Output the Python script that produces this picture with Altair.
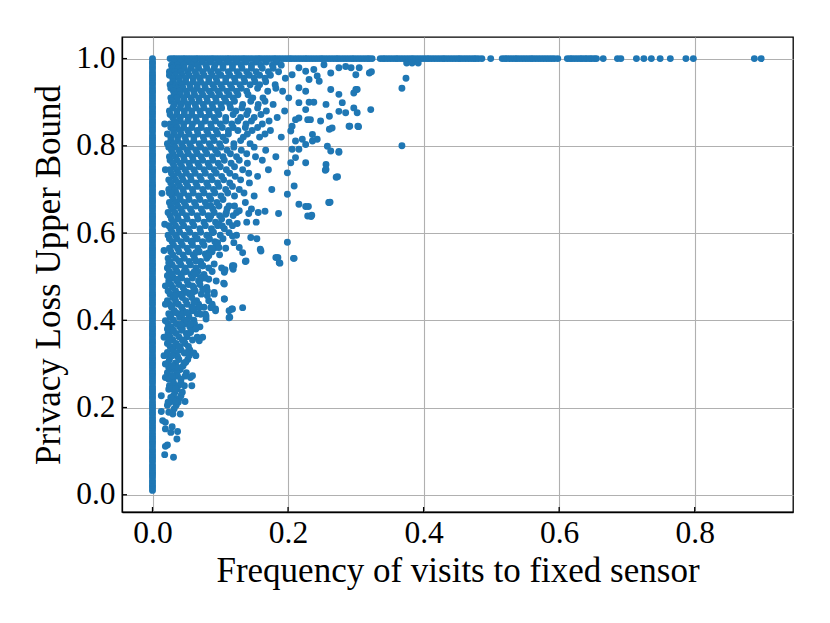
import altair as alt
import pandas as pd

# ---- axis ticks ----
x_ticks = [0.0, 0.2, 0.4, 0.6, 0.8]
y_ticks = [0.0, 0.2, 0.4, 0.6, 0.8, 1.0]

# ---- users that never visit the fixed sensor (x = 0) ----
col_y = [0.010, 0.016, 0.021, 0.027, 0.033, 0.040, 0.046, 0.051, 0.057, 0.063, 0.069, 0.076,
         0.082, 0.087, 0.093, 0.099, 0.105, 0.112, 0.118, 0.123, 0.129, 0.135, 0.141, 0.148,
         0.154, 0.160, 0.166, 0.171, 0.177, 0.184, 0.190, 0.196, 0.202, 0.207, 0.213, 0.220,
         0.226, 0.232, 0.238, 0.243, 0.249, 0.256, 0.262, 0.268, 0.274, 0.279, 0.285, 0.292,
         0.298, 0.304, 0.310, 0.315, 0.321, 0.328, 0.334, 0.340, 0.346, 0.351, 0.357, 0.364,
         0.370, 0.376, 0.382, 0.387, 0.393, 0.400, 0.406, 0.412, 0.418, 0.423, 0.429, 0.436,
         0.442, 0.448, 0.454, 0.459, 0.465, 0.472, 0.478, 0.484, 0.490, 0.495, 0.501, 0.508,
         0.514, 0.520, 0.526, 0.531, 0.537, 0.544, 0.550, 0.556, 0.562, 0.567, 0.573, 0.580,
         0.586, 0.592, 0.598, 0.603, 0.609, 0.616, 0.622, 0.628, 0.634, 0.639, 0.645, 0.652,
         0.658, 0.664, 0.670, 0.675, 0.681, 0.688, 0.694, 0.700, 0.706, 0.711, 0.717, 0.724,
         0.730, 0.736, 0.742, 0.747, 0.753, 0.760, 0.766, 0.772, 0.778, 0.783, 0.789, 0.796,
         0.802, 0.808, 0.814, 0.819, 0.825, 0.832, 0.838, 0.844, 0.850, 0.855, 0.861, 0.868,
         0.874, 0.880, 0.886, 0.891, 0.897, 0.904, 0.910, 0.916, 0.922, 0.927, 0.933, 0.940,
         0.946, 0.952, 0.958, 0.963, 0.969, 0.976, 0.982, 0.988, 0.993, 1.000]

# ---- users whose bound saturates at 1.0 ----
top_x = [0.026, 0.030, 0.033, 0.037, 0.041, 0.045, 0.048, 0.052, 0.056, 0.060, 0.064, 0.067,
         0.071, 0.075, 0.079, 0.083, 0.087, 0.090, 0.094, 0.098, 0.102, 0.106, 0.110, 0.113,
         0.117, 0.121, 0.125, 0.129, 0.133, 0.136, 0.140, 0.144, 0.148, 0.152, 0.156, 0.159,
         0.163, 0.167, 0.171, 0.175, 0.179, 0.182, 0.186, 0.190, 0.194, 0.198, 0.202, 0.205,
         0.209, 0.213, 0.217, 0.221, 0.225, 0.228, 0.232, 0.236, 0.240, 0.244, 0.248, 0.251,
         0.255, 0.259, 0.263, 0.267, 0.271, 0.274, 0.278, 0.282, 0.286, 0.290, 0.294, 0.297,
         0.301, 0.305, 0.309, 0.313, 0.317, 0.320, 0.324, 0.336, 0.340, 0.343, 0.347, 0.351,
         0.355, 0.359, 0.362, 0.366, 0.370, 0.374, 0.378, 0.382, 0.385, 0.389, 0.393, 0.397,
         0.401, 0.405, 0.408, 0.412, 0.416, 0.420, 0.424, 0.428, 0.431, 0.435, 0.439, 0.443,
         0.447, 0.451, 0.454, 0.458, 0.462, 0.466, 0.470, 0.474, 0.477, 0.481, 0.486, 0.499,
         0.516, 0.520, 0.523, 0.527, 0.531, 0.535, 0.538, 0.542, 0.546, 0.550, 0.554, 0.558,
         0.561, 0.565, 0.569, 0.573, 0.577, 0.581, 0.585, 0.589, 0.593, 0.598, 0.612, 0.616,
         0.619, 0.623, 0.627, 0.631, 0.634, 0.638, 0.641, 0.645, 0.648, 0.652, 0.655, 0.665,
         0.686, 0.691, 0.714, 0.725, 0.736, 0.749, 0.764, 0.787, 0.798, 0.888, 0.898]

# ---- dense cloud, read row by row (y, list of x) ----
cloud_upper = [
    (0.992, [0.032, 0.041, 0.052, 0.062, 0.073, 0.085, 0.098, 0.111, 0.124, 0.138, 0.153, 0.168, 0.183]),
    (0.985, [0.028, 0.037, 0.046, 0.058, 0.067, 0.079, 0.092, 0.104, 0.118, 0.131, 0.146, 0.160, 0.177, 0.190]),
    (0.978, [0.029, 0.038, 0.047, 0.057, 0.068, 0.080, 0.091, 0.104, 0.118, 0.132, 0.146, 0.162, 0.178]),
    (0.970, [0.025, 0.033, 0.042, 0.052, 0.063, 0.074, 0.086, 0.097, 0.112, 0.125, 0.139, 0.153, 0.171, 0.186]),
    (0.962, [0.025, 0.034, 0.044, 0.054, 0.065, 0.076, 0.088, 0.101, 0.114, 0.128, 0.143, 0.158, 0.174]),
    (0.955, [0.030, 0.039, 0.049, 0.060, 0.070, 0.083, 0.094, 0.108, 0.121, 0.135, 0.150, 0.166, 0.196]),
    (0.947, [0.030, 0.040, 0.049, 0.060, 0.071, 0.083, 0.095, 0.108, 0.122, 0.136, 0.151, 0.167]),
    (0.940, [0.026, 0.035, 0.044, 0.055, 0.066, 0.077, 0.089, 0.101, 0.115, 0.129, 0.144, 0.158, 0.181]),
    (0.932, [0.027, 0.036, 0.045, 0.056, 0.066, 0.078, 0.091, 0.103, 0.117, 0.131, 0.155, 0.182]),
    (0.925, [0.031, 0.040, 0.050, 0.061, 0.072, 0.084, 0.097, 0.110, 0.124, 0.139, 0.170, 0.192]),
    (0.917, [0.032, 0.041, 0.051, 0.062, 0.074, 0.087, 0.099, 0.113, 0.126, 0.141]),
    (0.910, [0.027, 0.036, 0.046, 0.057, 0.068, 0.080, 0.093, 0.106, 0.119, 0.148, 0.163]),
    (0.902, [0.028, 0.037, 0.047, 0.058, 0.069, 0.081, 0.094, 0.108, 0.121, 0.145, 0.166]),
    (0.895, [0.032, 0.042, 0.052, 0.063, 0.075, 0.088, 0.101, 0.114, 0.133, 0.156, 0.178]),
    (0.887, [0.030, 0.041, 0.052, 0.064, 0.076, 0.089, 0.102, 0.115, 0.132, 0.155]),
    (0.880, [0.025, 0.036, 0.047, 0.058, 0.070, 0.083, 0.096, 0.123, 0.141, 0.168, 0.195]),
    (0.872, [0.026, 0.036, 0.047, 0.058, 0.071, 0.084, 0.098, 0.119, 0.139, 0.160]),
    (0.865, [0.030, 0.041, 0.053, 0.064, 0.078, 0.091, 0.108, 0.130, 0.150, 0.184]),
    (0.857, [0.032, 0.041, 0.052, 0.065, 0.078, 0.093, 0.108, 0.126, 0.146, 0.172]),
    (0.850, [0.026, 0.035, 0.046, 0.059, 0.072, 0.086, 0.100, 0.117, 0.138, 0.162]),
    (0.842, [0.027, 0.036, 0.046, 0.058, 0.072, 0.087, 0.103, 0.119, 0.137, 0.155]),
    (0.835, [0.031, 0.041, 0.052, 0.066, 0.080, 0.094, 0.112, 0.126, 0.147, 0.174]),
    (0.827, [0.022, 0.032, 0.042, 0.054, 0.067, 0.082, 0.096, 0.112, 0.140, 0.166]),
    (0.820, [0.027, 0.037, 0.048, 0.061, 0.075, 0.089, 0.104, 0.134, 0.158, 0.190]),
    (0.812, [0.027, 0.037, 0.049, 0.061, 0.076, 0.091, 0.108, 0.130]),
    (0.805, [0.022, 0.032, 0.043, 0.055, 0.069, 0.084, 0.099, 0.120, 0.144]),
    (0.797, [0.024, 0.033, 0.045, 0.057, 0.071, 0.086, 0.101, 0.120, 0.150]),
    (0.790, [0.028, 0.039, 0.051, 0.064, 0.078, 0.093, 0.110, 0.131, 0.167]),
    (0.782, [0.030, 0.041, 0.053, 0.066, 0.080, 0.096, 0.115, 0.139]),
    (0.775, [0.025, 0.034, 0.046, 0.059, 0.072, 0.088, 0.104, 0.124, 0.152, 0.182]),
    (0.767, [0.026, 0.036, 0.047, 0.060, 0.074, 0.089, 0.106, 0.128, 0.162]),
    (0.760, [0.030, 0.041, 0.054, 0.067, 0.082, 0.097, 0.116, 0.140]),
    (0.752, [0.032, 0.043, 0.055, 0.069, 0.084, 0.100, 0.121]),
    (0.745, [0.026, 0.036, 0.048, 0.061, 0.076, 0.091, 0.109, 0.133, 0.171]),
    (0.737, [0.028, 0.038, 0.050, 0.063, 0.078, 0.094, 0.114, 0.142]),
    (0.730, [0.031, 0.043, 0.056, 0.070, 0.086, 0.102, 0.122, 0.155]),
    (0.722, [0.024, 0.034, 0.045, 0.057, 0.072, 0.088, 0.105, 0.130]),
    (0.715, [0.027, 0.038, 0.050, 0.064, 0.080, 0.096, 0.114, 0.143]),
    (0.707, [0.030, 0.040, 0.052, 0.066, 0.082, 0.098, 0.118]),
    (0.700, [0.024, 0.033, 0.045, 0.059, 0.074, 0.090, 0.108, 0.128, 0.176]),
]
cloud_lower = [
    (0.692, [0.025, 0.035, 0.046, 0.060, 0.076, 0.092, 0.111, 0.135]),
    (0.685, [0.029, 0.040, 0.053, 0.068, 0.084, 0.101, 0.121, 0.150]),
    (0.677, [0.031, 0.041, 0.054, 0.070, 0.086, 0.104]),
    (0.670, [0.025, 0.035, 0.047, 0.062, 0.078, 0.095, 0.137]),
    (0.662, [0.027, 0.037, 0.049, 0.064, 0.080, 0.098, 0.121]),
    (0.655, [0.030, 0.042, 0.056, 0.072, 0.089, 0.110, 0.146]),
    (0.647, [0.023, 0.033, 0.044, 0.058, 0.074, 0.091, 0.109]),
    (0.640, [0.026, 0.037, 0.050, 0.066, 0.082, 0.099, 0.119]),
    (0.632, [0.028, 0.038, 0.051, 0.067, 0.084, 0.102]),
    (0.625, [0.031, 0.044, 0.059, 0.076, 0.093, 0.113, 0.139]),
    (0.617, [0.024, 0.034, 0.046, 0.061, 0.078, 0.096, 0.118]),
    (0.610, [0.027, 0.039, 0.053, 0.070, 0.087, 0.106]),
    (0.602, [0.029, 0.040, 0.055, 0.071, 0.090]),
    (0.595, [0.023, 0.034, 0.047, 0.063, 0.080, 0.100, 0.124]),
    (0.587, [0.025, 0.036, 0.050, 0.066, 0.084, 0.104]),
    (0.580, [0.029, 0.042, 0.057, 0.074, 0.092]),
    (0.572, [0.031, 0.044, 0.059, 0.076, 0.095]),
    (0.565, [0.025, 0.037, 0.051, 0.067, 0.086, 0.108]),
    (0.557, [0.027, 0.039, 0.053, 0.069, 0.088]),
    (0.550, [0.030, 0.045, 0.060, 0.079, 0.099]),
    (0.542, [0.023, 0.034, 0.047, 0.062, 0.080]),
    (0.535, [0.026, 0.040, 0.054, 0.071]),
    (0.527, [0.029, 0.042, 0.056, 0.072]),
    (0.520, [0.022, 0.034, 0.048, 0.064, 0.083, 0.102]),
    (0.512, [0.025, 0.036, 0.050, 0.067, 0.088]),
    (0.505, [0.028, 0.042, 0.057, 0.076]),
    (0.497, [0.031, 0.043, 0.059, 0.078]),
    (0.490, [0.024, 0.036, 0.051, 0.068, 0.094]),
    (0.482, [0.027, 0.039, 0.053, 0.070]),
    (0.475, [0.030, 0.045, 0.061, 0.080]),
    (0.467, [0.023, 0.034, 0.047, 0.063, 0.081]),
    (0.460, [0.026, 0.040, 0.055, 0.072]),
    (0.452, [0.030, 0.044, 0.058]),
    (0.445, [0.022, 0.034, 0.049, 0.065, 0.083]),
    (0.437, [0.025, 0.038, 0.051, 0.068]),
    (0.430, [0.028, 0.043, 0.058, 0.076]),
    (0.422, [0.032, 0.045, 0.059]),
    (0.415, [0.024, 0.038, 0.053, 0.066]),
    (0.407, [0.026, 0.040, 0.054]),
    (0.400, [0.031, 0.047, 0.061]),
    (0.392, [0.023, 0.035, 0.048, 0.062]),
    (0.385, [0.027, 0.040, 0.055, 0.070]),
    (0.377, [0.031, 0.043, 0.057]),
    (0.370, [0.023, 0.035, 0.050]),
    (0.362, [0.026, 0.039, 0.051]),
    (0.355, [0.030, 0.044, 0.059]),
    (0.347, [0.022, 0.035, 0.048]),
    (0.340, [0.026, 0.040, 0.053]),
    (0.332, [0.030, 0.042, 0.055]),
    (0.325, [0.035, 0.047, 0.061]),
    (0.317, [0.026, 0.037]),
    (0.310, [0.025, 0.039, 0.052]),
    (0.302, [0.023, 0.034, 0.047]),
    (0.295, [0.032, 0.045]),
    (0.287, [0.029, 0.041]),
    (0.280, [0.022, 0.036, 0.050]),
    (0.272, [0.025, 0.037, 0.048]),
    (0.265, [0.030, 0.042]),
    (0.257, [0.031, 0.042]),
    (0.250, [0.025, 0.038, 0.047]),
    (0.242, [0.024, 0.036]),
    (0.235, [0.033, 0.044]),
    (0.227, [0.031, 0.042]),
    (0.220, [0.028, 0.039]),
    (0.212, [0.026, 0.038]),
    (0.205, [0.022, 0.035]),
    (0.197, [0.032]),
    (0.185, [0.030, 0.041]),
]

# ---- individually read scattered points (x, y) ----
outer_pts = [
    (0.206, 0.963), (0.216, 0.979), (0.226, 0.971), (0.238, 0.975), (0.243, 0.960), (0.231, 0.952),
    (0.246, 0.948), (0.253, 0.986), (0.263, 0.967), (0.275, 0.979), (0.285, 0.982), (0.293, 0.979),
    (0.300, 0.963), (0.320, 0.967), (0.263, 0.929), (0.275, 0.918), (0.300, 0.929), (0.297, 0.921),
    (0.216, 0.933), (0.226, 0.925), (0.201, 0.910), (0.216, 0.899), (0.231, 0.900), (0.238, 0.900),
    (0.256, 0.895), (0.275, 0.879), (0.285, 0.876), (0.280, 0.899), (0.297, 0.887), (0.302, 0.876),
    (0.322, 0.883), (0.226, 0.883), (0.211, 0.860), (0.216, 0.864), (0.229, 0.860), (0.233, 0.860),
    (0.248, 0.857), (0.261, 0.868), (0.265, 0.841), (0.261, 0.838), (0.290, 0.845), (0.304, 0.844),
    (0.206, 0.845), (0.204, 0.834), (0.236, 0.826), (0.243, 0.815), (0.236, 0.811), (0.221, 0.815),
    (0.211, 0.811), (0.226, 0.803), (0.258, 0.799), (0.263, 0.788), (0.275, 0.787), (0.206, 0.792),
    (0.216, 0.792), (0.211, 0.773), (0.204, 0.761), (0.226, 0.761), (0.256, 0.757), (0.255, 0.744),
    (0.273, 0.729), (0.209, 0.708), (0.199, 0.689), (0.216, 0.666), (0.226, 0.661), (0.229, 0.639),
    (0.262, 0.671), (0.199, 0.738), (0.305, 0.979), (0.302, 0.929), (0.303, 0.845), (0.291, 0.845),
    (0.260, 0.670), (0.275, 0.785), (0.271, 0.728), (0.256, 0.746), (0.234, 0.638), (0.199, 0.579),
    (0.375, 0.990), (0.383, 0.990), (0.392, 0.990), (0.374, 0.955), (0.368, 0.932), (0.368, 0.800),
    (0.323, 0.970),
]
mid_pts = [
    (0.208, 0.542), (0.185, 0.544), (0.188, 0.531), (0.230, 0.661), (0.235, 0.641), (0.261, 0.670),
    (0.186, 0.645), (0.166, 0.650), (0.156, 0.647), (0.142, 0.645), (0.153, 0.625), (0.125, 0.622),
    (0.124, 0.647), (0.128, 0.651), (0.145, 0.590), (0.154, 0.587), (0.159, 0.563), (0.137, 0.535),
    (0.118, 0.525), (0.119, 0.517), (0.107, 0.516), (0.106, 0.510), (0.105, 0.485), (0.106, 0.449),
    (0.133, 0.429), (0.117, 0.426), (0.114, 0.407), (0.091, 0.529), (0.074, 0.525), (0.061, 0.510),
    (0.071, 0.494), (0.074, 0.471), (0.081, 0.456), (0.091, 0.464), (0.088, 0.433), (0.093, 0.426),
    (0.078, 0.414), (0.069, 0.433), (0.061, 0.426), (0.059, 0.464), (0.059, 0.479), (0.120, 0.578),
    (0.128, 0.567), (0.133, 0.555), (0.093, 0.567), (0.098, 0.567), (0.096, 0.578), (0.083, 0.555),
    (0.078, 0.552), (0.064, 0.555), (0.113, 0.601), (0.118, 0.593), (0.098, 0.620), (0.103, 0.616),
    (0.088, 0.601), (0.083, 0.586), (0.108, 0.643), (0.113, 0.662), (0.086, 0.662), (0.086, 0.639),
    (0.074, 0.578), (0.059, 0.582), (0.014, 0.691), (0.027, 0.692), (0.017, 0.560), (0.018, 0.620),
    (0.019, 0.745), (0.018, 0.850),
]
low_pts = [
    (0.013, 0.227), (0.013, 0.191), (0.024, 0.189), (0.015, 0.170), (0.019, 0.166), (0.019, 0.151),
    (0.027, 0.143), (0.037, 0.145), (0.029, 0.156), (0.036, 0.128), (0.019, 0.111), (0.022, 0.114),
    (0.018, 0.092), (0.031, 0.086), (0.023, 0.212), (0.027, 0.223), (0.034, 0.214), (0.048, 0.214),
    (0.029, 0.243), (0.034, 0.243), (0.019, 0.269), (0.024, 0.265), (0.056, 0.269), (0.059, 0.273),
    (0.058, 0.250), (0.029, 0.273), (0.037, 0.292), (0.024, 0.292), (0.019, 0.300), (0.029, 0.296),
    (0.017, 0.319), (0.022, 0.326), (0.029, 0.319), (0.049, 0.304), (0.054, 0.319), (0.064, 0.319),
    (0.051, 0.326), (0.017, 0.361), (0.024, 0.353), (0.034, 0.342), (0.039, 0.338), (0.046, 0.353),
    (0.066, 0.361), (0.074, 0.361), (0.069, 0.353), (0.056, 0.372), (0.064, 0.380), (0.044, 0.380),
    (0.029, 0.376), (0.022, 0.380), (0.042, 0.391), (0.051, 0.399), (0.056, 0.391), (0.079, 0.403),
    (0.113, 0.406), (0.071, 0.414), (0.079, 0.410), (0.019, 0.399), (0.027, 0.410), (0.044, 0.414),
    (0.034, 0.418), (0.051, 0.418), (0.019, 0.437), (0.029, 0.433), (0.019, 0.479), (0.024, 0.483),
    (0.034, 0.456), (0.044, 0.460), (0.051, 0.464), (0.061, 0.441), (0.069, 0.429), (0.086, 0.429),
    (0.088, 0.437), (0.093, 0.422), (0.106, 0.449), (0.113, 0.422), (0.118, 0.426), (0.022, 0.502),
    (0.029, 0.506), (0.037, 0.494), (0.046, 0.510), (0.064, 0.506), (0.071, 0.498), (0.083, 0.494),
    (0.091, 0.460), (0.106, 0.483), (0.106, 0.513), (0.118, 0.521), (0.120, 0.525), (0.138, 0.536),
    (0.182, 0.544), (0.187, 0.532), (0.209, 0.542), (0.160, 0.559), (0.024, 0.532), (0.039, 0.536),
    (0.064, 0.536), (0.074, 0.525), (0.083, 0.548),
]

# ---- assemble table ----
rows = [(0.0, y) for y in col_y] + [(x, 1.0) for x in top_x]
for y, xs in cloud_upper + cloud_lower:
    rows += [(x, y) for x in xs]
rows += outer_pts + mid_pts + low_pts
df = pd.DataFrame(rows, columns=["x", "y"])

W, H = 671, 475
xscale = alt.Scale(domain=[-0.045, 0.945], nice=False, zero=False)
yscale = alt.Scale(domain=[-0.0395, 1.0495], nice=False, zero=False)

x_axis = alt.Axis(values=x_ticks, format=".1f", title="Frequency of visits to fixed sensor",
                  labelPadding=5, titlePadding=5)
y_axis = alt.Axis(values=y_ticks, format=".1f", title="Privacy Loss Upper Bound",
                  labelPadding=7, titlePadding=9)

points = alt.Chart(df).mark_circle(size=48, color="#1f77b4", opacity=1).encode(
    x=alt.X("x:Q", scale=xscale, axis=x_axis),
    y=alt.Y("y:Q", scale=yscale, axis=y_axis),
)

# inward tick marks (matplotlib style)
xt = alt.Chart(pd.DataFrame({"x": x_ticks})).mark_rule(color="black", strokeWidth=1.3).encode(
    x=alt.X("x:Q", scale=xscale, axis=x_axis),
    y=alt.value(H), y2=alt.value(H - 5),
)
yt = alt.Chart(pd.DataFrame({"y": y_ticks})).mark_rule(color="black", strokeWidth=1.3).encode(
    y=alt.Y("y:Q", scale=yscale, axis=y_axis),
    x=alt.value(0), x2=alt.value(5),
)

chart = alt.layer(points, xt, yt).properties(
    width=W, height=H,
    autosize=alt.AutoSizeParams(type="none"),
    padding={"left": 114, "top": 29, "right": 29, "bottom": 103},
).configure_view(
    stroke="black", strokeWidth=1.3
).configure_axis(
    labelFont="Liberation Serif", titleFont="Liberation Serif",
    labelFontSize=31.5, titleFontSize=35, titleFontWeight="normal",
    labelColor="black", titleColor="black",
    domainColor="black", domainWidth=1.3,
    grid=True, gridColor="#b0b0b0", gridWidth=1.1,
    ticks=False, zindex=1,
)

chart.save("out.html", embed_options={"renderer": "svg", "actions": False})
